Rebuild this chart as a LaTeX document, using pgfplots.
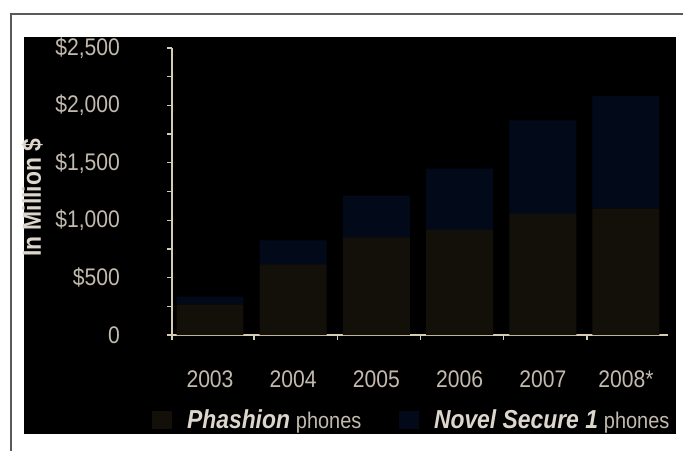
\documentclass[border=0pt]{standalone}
\usepackage{fontspec}
\setmainfont{Liberation Sans}[FakeStretch=0.88]
\usepackage{pgfplots}
\pgfplotsset{compat=1.18}
\definecolor{phash}{HTML}{13100A}
\definecolor{novel}{HTML}{020A19}
\definecolor{txt}{HTML}{C2BAAE}
\definecolor{txtb}{HTML}{DDD6CC}
\definecolor{axc}{HTML}{D6CCB4}
\newcommand\cf{\fontsize{18}{21}\selectfont}
\newcommand\bl[1]{{\fontsize{19.5}{21}\selectfont\color{txtb}\textbf{\textit{#1}}}}
\newcommand\rg[1]{{\fontsize{17}{21}\selectfont #1}}
\begin{document}
\begin{tikzpicture}[x=0.75pt,y=0.75pt]
\useasboundingbox (0,0) rectangle (683,451);
\fill[white] (0,0) rectangle (683,451);
\draw[black!65, line width=1.2pt] (11,0) -- (11,437) -- (683,437);
\fill[black] (24,17) rectangle (676,414);
\coordinate (O) at (210,116);
\begin{axis}[
  at={(O)}, anchor=origin,
  scale only axis, width=372pt, height=215.25pt,
  ybar stacked, bar width=0.805,
  xmin=-0.457, xmax=5.505, ymin=0, ymax=2500,
  axis x line=bottom, axis y line=left,
  axis line style={-, draw=axc, line width=1.1pt},
  xtick={0,1,2,3,4,5},
  xticklabels={2003,2004,2005,2006,2007,2008*},
  minor xtick={-0.457,0.53,1.53,2.53,3.53,4.53},
  ytick={0,500,1000,1500,2000,2500},
  yticklabels={0,{\$500},{\$1,000},{\$1,500},{\$2,000},{\$2,500}},
  minor ytick={250,750,1250,1750,2250},
  tick align=outside,
  major tick length=3.5pt, minor tick length=3.5pt,
  every tick/.style={draw=axc, line width=1pt},
  major x tick style={draw=none},
  tick label style={font=\cf, text=txt},
  yticklabel style={anchor=east, xshift=-32pt},
  xticklabel style={anchor=north, yshift=-20pt},
  ylabel={\textbf{In Million \$}},
  ylabel style={at={(axis description cs:-0.282,0.478)}, anchor=center, font=\fontsize{19.5}{21}\selectfont, text=txtb},
  legend columns=2,
  legend style={at={(axis description cs:-0.040,-0.296)}, anchor=west, draw=none, fill=none,
    font=\cf, text=txt, inner sep=0pt,
    /tikz/every even column/.append style={column sep=26.5pt}},
  legend image code/.code={\path (0pt,0pt) -- (24pt,0pt); \fill[#1] (0pt,-6.75pt) rectangle (15pt,6.75pt);},
]
\addplot[fill=phash, draw=none] coordinates {(0,265) (1,615) (2,850) (3,915) (4,1055) (5,1100)};
\addlegendentry{\bl{Phashion} \rg{phones}}
\addplot[fill=novel, draw=none] coordinates {(0,70) (1,210) (2,365) (3,535) (4,815) (5,980)};
\addlegendentry{\bl{Novel Secure 1} \rg{phones}}
\end{axis}
\end{tikzpicture}
\end{document}
